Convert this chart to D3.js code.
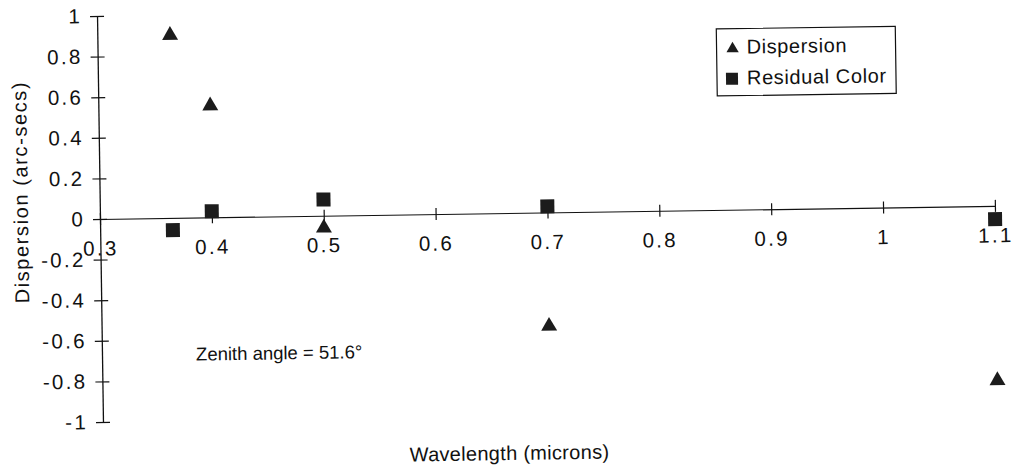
<!DOCTYPE html>
<html>
<head>
<meta charset="utf-8">
<script src="https://cdn.jsdelivr.net/npm/d3@7"></script>
<style>
  body { margin: 0; background: #fff; }
  svg text { font-family: "Liberation Sans", Arial, sans-serif; fill: #111; }
</style>
</head>
<body>
<div id="chart"></div>
<script>
// wavelengths (microns) and values (arc-secs)
const wavelengths = [0.365, 0.4, 0.5, 0.7, 1.1];
const dispersion = [0.9, 0.55, -0.06, -0.56, -0.86];
const residualColor = [-0.06, 0.03, 0.08, 0.03, -0.065];

const xTicks = [0.3, 0.4, 0.5, 0.6, 0.7, 0.8, 0.9, 1, 1.1];
const xTickLabels = ["0.3", "0.4", "0.5", "0.6", "0.7", "0.8", "0.9", "1", "1.1"];
const yTicks = [-1, -0.8, -0.6, -0.4, -0.2, 0, 0.2, 0.4, 0.6, 0.8, 1];
const yTickLabels = ["-1", "-0.8", "-0.6", "-0.4", "-0.2", "0", "0.2", "0.4", "0.6", "0.8", "1"];

const seriesNames = ["Dispersion", "Residual Color"];

const width = 1018, height = 473;

const svg = d3.select("#chart").append("svg")
    .attr("width", width)
    .attr("height", height);

// the scanned page is slightly tilted, so the whole plot is rotated a little
const g = svg.append("g")
    .attr("transform", "rotate(-0.84, 100, 219)");

const x = d3.scaleLinear().domain([0.3, 1.1]).range([100, 995]);
const y = d3.scaleLinear().domain([-1, 1]).range([422, 16]);

// y axis
const yAxis = g.append("g")
    .attr("transform", `translate(${x(0.3)},0)`)
    .call(d3.axisLeft(y)
        .tickValues(yTicks)
        .tickFormat((d, i) => yTickLabels[i])
        .tickSizeInner(7)
        .tickSizeOuter(0)
        .tickPadding(8));
yAxis.select(".domain").attr("stroke", "#111").attr("stroke-width", 1.3);
yAxis.selectAll(".tick line").attr("x1", -7).attr("x2", 7).attr("stroke", "#111").attr("stroke-width", 1.2);
yAxis.selectAll(".tick text")
    .attr("font-size", 20.5)
    .attr("letter-spacing", 2.3)
    .style("font-family", "Liberation Sans, Arial, sans-serif")
    .attr("fill", "#111");

// x axis through zero
const xAxis = g.append("g")
    .attr("transform", `translate(0,${y(0)})`)
    .call(d3.axisBottom(x)
        .tickValues(xTicks)
        .tickFormat((d, i) => xTickLabels[i])
        .tickSizeInner(6)
        .tickSizeOuter(0)
        .tickPadding(16));
xAxis.select(".domain").attr("stroke", "#111").attr("stroke-width", 1.2);
xAxis.selectAll(".tick line").attr("y1", -6).attr("y2", 6).attr("stroke", "#111").attr("stroke-width", 1.2);
xAxis.selectAll(".tick text")
    .attr("font-size", 20.5)
    .attr("letter-spacing", 2.3)
    .style("font-family", "Liberation Sans, Arial, sans-serif")
    .attr("fill", "#111");

// markers
const tri = d3.symbol().type(d3.symbolTriangle).size(110);
const sq = d3.symbol().type(d3.symbolSquare).size(196);

g.selectAll(".res")
    .data(wavelengths)
    .enter().append("path")
    .attr("class", "res")
    .attr("d", sq)
    .attr("transform", (d, i) => `translate(${x(d)},${y(residualColor[i])})`)
    .attr("fill", "#1c1c1c");

g.selectAll(".disp")
    .data(wavelengths)
    .enter().append("path")
    .attr("class", "disp")
    .attr("d", tri)
    .attr("transform", (d, i) => `translate(${x(d)},${y(dispersion[i])})`)
    .attr("fill", "#1c1c1c");

// legend
const legend = g.append("g");
legend.append("rect")
    .attr("x", 719).attr("y", 38)
    .attr("width", 179).attr("height", 67)
    .attr("fill", "none")
    .attr("stroke", "#111")
    .attr("stroke-width", 1.2);
legend.append("path")
    .attr("d", d3.symbol().type(d3.symbolTriangle).size(65))
    .attr("transform", "translate(735,58)")
    .attr("fill", "#1c1c1c");
legend.append("path")
    .attr("d", d3.symbol().type(d3.symbolSquare).size(144))
    .attr("transform", "translate(734,88)")
    .attr("fill", "#1c1c1c");
legend.selectAll(".lbl")
    .data(seriesNames)
    .enter().append("text")
    .attr("class", "lbl")
    .attr("x", 749)
    .attr("y", (d, i) => 63 + i * 31)
    .attr("font-size", 20)
    .attr("letter-spacing", 0.6)
    .text(d => d);

// annotation
g.append("text")
    .attr("x", 194).attr("y", 362)
    .attr("font-size", 18.5)
    .text("Zenith angle = 51.6°");

// axis titles
g.append("text")
    .attr("x", 506).attr("y", 466)
    .attr("text-anchor", "middle")
    .attr("font-size", 20)
    .attr("letter-spacing", 0.3)
    .text("Wavelength (microns)");

g.append("text")
    .attr("transform", "translate(28,191) rotate(-90)")
    .attr("text-anchor", "middle")
    .attr("font-size", 20)
    .attr("letter-spacing", 1.6)
    .text("Dispersion (arc-secs)");
</script>
</body>
</html>
